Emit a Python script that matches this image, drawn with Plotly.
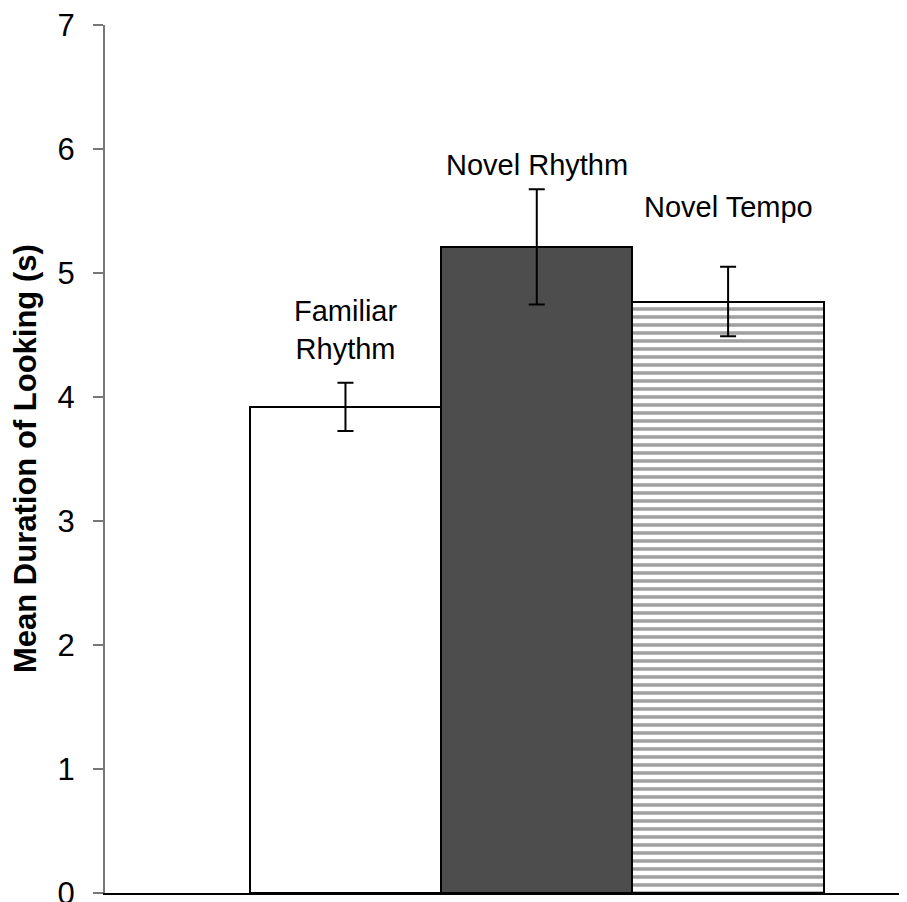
import plotly.graph_objects as go

categories = ["Familiar Rhythm", "Novel Rhythm", "Novel Tempo"]
label_text = ["Familiar<br>Rhythm", "Novel Rhythm", "Novel Tempo"]
means = [3.92, 5.21, 4.77]
errors = [0.195, 0.465, 0.28]
y_ticks = [0, 1, 2, 3, 4, 5, 6, 7]

xpos = list(range(len(categories)))

FONT = "Liberation Sans, Arial"

fig = go.Figure()
fig.add_trace(go.Bar(
    x=xpos,
    y=means,
    width=1,
    marker=dict(
        color=["white", "#4d4d4d", "white"],
        line=dict(color="black", width=2),
        pattern=dict(shape=["", "", "-"], size=8, solidity=0.45,
                     fgcolor="#000000", bgcolor="white", fillmode="overlay"),
    ),
    error_y=dict(type="data", array=errors, color="black", thickness=2, width=8),
    hoverinfo="skip",
    showlegend=False,
))

label_offsets = [0.425, 0.195, 0.48]
for i, (t, m, e) in enumerate(zip(label_text, means, errors)):
    fig.add_annotation(x=xpos[i], y=m + e + label_offsets[i], text=t, showarrow=False,
                       xref="x", yref="y", yanchor="middle",
                       font=dict(family=FONT, size=29, color="black"))

# body has 8px margin: plot area spans page px 105..915 -> figure px 97..907
fig.add_annotation(x=(17 - 97) / 810, y=0.5, xref="paper", yref="paper", showarrow=False,
                   xanchor="center",
                   text="<b>Mean Duration of Looking (s)</b>", textangle=-90,
                   font=dict(family=FONT, size=31, color="black"))

fig.update_layout(
    width=907, height=902,
    margin=dict(l=97, r=0, t=17, b=17, autoexpand=False),
    plot_bgcolor="white", paper_bgcolor="white",
    bargap=0,
    font=dict(family=FONT, color="black"),
)
fig.update_xaxes(range=[-1.257, 2.977], showticklabels=False, ticks="",
                 showgrid=False, zeroline=False, showline=True, linecolor="black", linewidth=2,
                 automargin=False)
fig.update_yaxes(range=[0, 7], tickvals=y_ticks, ticktext=[str(v) for v in y_ticks],
                 ticks="outside", ticklen=10, tickcolor="#777777", tickwidth=2,
                 showgrid=False, zeroline=False, showline=True, linecolor="#777777", linewidth=2,
                 tickfont=dict(family=FONT, size=31, color="black"),
                 ticklabelstandoff=12, ticklabeloverflow="allow", automargin=False)

fig.write_html("out.html")
